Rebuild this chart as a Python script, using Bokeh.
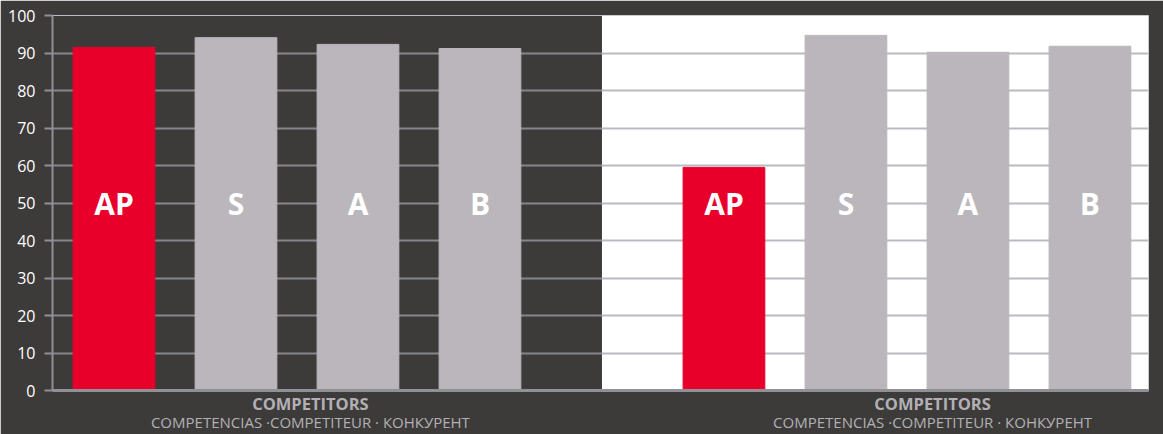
from bokeh.plotting import figure
from bokeh.models import (Range1d, FixedTicker, Grid, ColumnDataSource, BoxAnnotation,
                          LinearAxis, CustomJSTickFormatter)
from bokeh.core.properties import value
from bokeh.embed import file_html
from bokeh.resources import INLINE

# ---- data ----
categories = ["AP", "S", "A", "B"]
left_values = [91.5, 94.1, 92.3, 91.2]
right_values = [59.5, 94.7, 90.2, 91.8]
bar_colors = ["#e8002b", "#bab6bb", "#bab6bb", "#bab6bb"]
y_ticks = [0, 10, 20, 30, 40, 50, 60, 70, 80, 90, 100]
axis_title = "COMPETITORS"
axis_subtitle = "COMPETENCIAS ·COMPETITEUR · КОНКУРЕНТ"

BG = "#3d3b3a"
FONT = "Open Sans"
GRID_DARK = "#85868b"
GRID_LIGHT = "#b9bbc1"
AXIS_COL = "#8f9197"
TITLE_COL = "#b2b0b4"

GROUP_STEP = 5          # slot offset of the second panel
PANEL_SPLIT = 4.0       # where the white panel starts (in slot units)
X_START, X_END = -0.504, 8.48
TITLE_POS = [1.61, 6.71]

p = figure(width=1163, height=434, output_backend="svg", toolbar_location=None,
           x_range=Range1d(X_START, X_END), y_range=Range1d(0, 100),
           min_border_left=52, min_border_right=15,
           min_border_top=15, min_border_bottom=44)
p.background_fill_color = BG
p.border_fill_color = BG
p.outline_line_color = GRID_LIGHT
p.outline_line_width = 1
p.xgrid.visible = False
p.ygrid.visible = False

# white right panel (below grid lines)
p.add_layout(BoxAnnotation(left=PANEL_SPLIT, fill_color="white", fill_alpha=1.0,
                           line_color=None, level="image"))

# grid lines: darker on the dark panel, lighter on the white panel
try:
    g1 = Grid(dimension=1, ticker=FixedTicker(ticks=y_ticks), grid_line_color=GRID_DARK,
              grid_line_width=2, cross_bounds=(X_START, PANEL_SPLIT))
    g2 = Grid(dimension=1, ticker=FixedTicker(ticks=y_ticks), grid_line_color=GRID_LIGHT,
              grid_line_width=2, cross_bounds=(PANEL_SPLIT, X_END))
    p.center.append(g1)
    p.center.append(g2)
except Exception:
    g1 = Grid(dimension=1, ticker=FixedTicker(ticks=y_ticks), grid_line_color="#9a9ba0",
              grid_line_width=2)
    p.center.append(g1)

for gi, vals in enumerate([left_values, right_values]):
    src = ColumnDataSource(dict(x=[gi * GROUP_STEP + i for i in range(len(categories))],
                                top=vals, color=bar_colors, label=categories,
                                ly=[50] * len(categories)))
    p.vbar(x="x", top="top", width=0.67, bottom=0, color="color", source=src)
    p.text(x="x", y="ly", text="label", source=src, text_color="white",
           text_font=value(FONT), text_font_style="bold", text_font_size="30px",
           text_align="center", text_baseline="middle")

ya = p.yaxis[0]
ya.ticker = FixedTicker(ticks=y_ticks)
ya.axis_line_color = AXIS_COL
ya.axis_line_width = 2
ya.major_tick_line_color = AXIS_COL
ya.major_tick_line_width = 2
ya.major_tick_out = 8
ya.major_tick_in = 0
ya.minor_tick_line_color = None
ya.major_label_text_color = "white"
ya.major_label_text_font = FONT
ya.major_label_text_font_size = "16px"
ya.major_label_standoff = 9

# bottom axis: line + bold title under each panel
xa = p.xaxis[0]
xa.ticker = FixedTicker(ticks=TITLE_POS)
xa.formatter = CustomJSTickFormatter(code="return %r;" % axis_title)
xa.axis_line_color = AXIS_COL
xa.axis_line_width = 3
xa.major_tick_line_color = None
xa.minor_tick_line_color = None
xa.major_tick_out = 0
xa.major_tick_in = 0
xa.major_label_text_color = TITLE_COL
xa.major_label_text_font = FONT
xa.major_label_text_font_style = "bold"
xa.major_label_text_font_size = "16.5px"
xa.major_label_standoff = 1

# second axis: the multilingual subtitle
xa2 = LinearAxis(ticker=FixedTicker(ticks=TITLE_POS),
                 formatter=CustomJSTickFormatter(code="return %r;" % axis_subtitle))
xa2.axis_line_color = None
xa2.major_tick_line_color = None
xa2.minor_tick_line_color = None
xa2.major_tick_out = 0
xa2.major_tick_in = 0
xa2.major_label_text_color = TITLE_COL
xa2.major_label_text_font = FONT
xa2.major_label_text_font_size = "15px"
xa2.major_label_standoff = -6
p.add_layout(xa2, "below")

html = file_html(p, INLINE)
html = html.replace("<body>", '<body style="margin:0;background:%s">' % BG, 1)
open("out.html", "w").write(html)
